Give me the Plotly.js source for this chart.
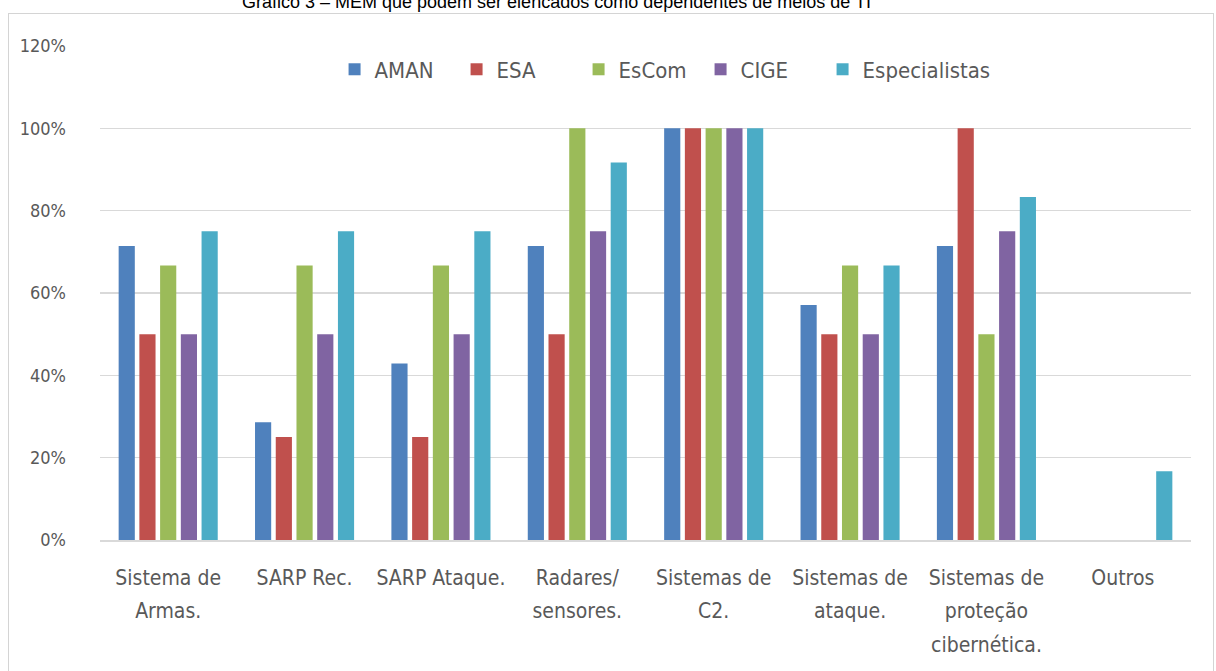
<!DOCTYPE html>
<html>
<head>
<meta charset="utf-8">
<script src="https://cdn.plot.ly/plotly-3.0.1.min.js"></script>
<style>
  html, body { margin: 0; padding: 0; background: #ffffff; }
  #wrap { position: relative; width: 1216px; height: 671px; overflow: hidden; }
  #chart { position: absolute; left: 0; top: 0; width: 1216px; height: 671px; }
  #frame { position: absolute; left: 8px; top: 13px; width: 1204px; height: 700px;
           border: 1px solid #d4d4d4; pointer-events: none; }
</style>
</head>
<body>
<div id="wrap">
  <div id="chart"></div>
  <div id="frame"></div>
</div>
<script>
const categories = [
  "Sistema de<br>Armas.",
  "SARP Rec.",
  "SARP Ataque.",
  "Radares/<br>sensores.",
  "Sistemas de<br>C2.",
  "Sistemas de<br>ataque.",
  "Sistemas de<br>proteção<br>cibernética.",
  "Outros"
];
const seriesNames = ["AMAN", "ESA", "EsCom", "CIGE", "Especialistas"];
const AMAN          = [0.714, 0.286, 0.429, 0.714, 1.00, 0.571, 0.714, 0];
const ESA           = [0.50,  0.25,  0.25,  0.50,  1.00, 0.50,  1.00,  0];
const EsCom         = [0.667, 0.667, 0.667, 1.00,  1.00, 0.667, 0.50,  0];
const CIGE          = [0.50,  0.50,  0.50,  0.75,  1.00, 0.50,  0.75,  0];
const Especialistas = [0.75,  0.75,  0.75,  0.917, 1.00, 0.667, 0.833, 0.167];
const seriesValues = [AMAN, ESA, EsCom, CIGE, Especialistas];
const colors = ["#4F81BD", "#C0504D", "#9BBB59", "#8064A2", "#4BACC6"];
const yTickVals = [0, 0.2, 0.4, 0.6, 0.8, 1.0, 1.2];
const titleText = "Gráfico 3 – MEM que podem ser elencados como dependentes de meios de TI";

const FONT = "'DejaVu Sans Condensed', 'Arial Narrow', sans-serif";

const traces = seriesNames.map((name, i) => ({
  type: "bar",
  name: name,
  x: categories,
  y: seriesValues[i],
  marker: { color: colors[i] },
  hoverinfo: "none"
}));

const layout = {
  width: 1216,
  height: 671,
  margin: { l: 100, r: 25, t: 46, b: 131 },
  paper_bgcolor: "#ffffff",
  plot_bgcolor: "#ffffff",
  barmode: "group",
  bargap: 0.24,
  bargroupgap: 0.22,
  font: { family: FONT, size: 21, color: "#595959" },
  showlegend: true,
  legend: {
    orientation: "h",
    x: 0.215, xanchor: "left",
    y: 0.995, yanchor: "top",
    font: { family: FONT, size: 22, color: "#595959" },
    bgcolor: "rgba(0,0,0,0)",
    itemclick: false,
    itemwidth: 30,
    entrywidth: 77,
    entrywidthmode: "pixels",
    traceorder: "normal"
  },
  xaxis: {
    type: "category",
    showgrid: false,
    showline: true,
    linecolor: "#d9d9d9",
    linewidth: 1.5,
    ticks: "",
    ticklabelstandoff: 18,
    tickfont: { family: FONT, size: 21, color: "#595959" },
    fixedrange: true
  },
  yaxis: {
    range: [0, 1.2],
    tickvals: yTickVals,
    tickformat: ".0%",
    showgrid: true,
    gridcolor: "#d9d9d9",
    gridwidth: 1.5,
    zeroline: false,
    showline: false,
    ticks: "",
    ticklabelstandoff: 33,
    tickfont: { family: FONT, size: 18, color: "#595959" },
    fixedrange: true
  },
  annotations: [{
    text: titleText,
    xref: "paper", yref: "paper",
    x: 0.418, xanchor: "center",
    y: 1.090, yanchor: "middle",
    showarrow: false,
    font: { family: "'Liberation Sans', Arial, sans-serif", size: 18, color: "#000000" }
  }]
};

Plotly.newPlot("chart", traces, layout, { displayModeBar: false, staticPlot: true }).then(() => {
  // widen line spacing of the multi-line category labels (1.3em -> 1.6em per line)
  document.querySelectorAll(".xtick text tspan.line").forEach(t => {
    const dy = t.getAttribute("dy");
    const v = dy ? parseFloat(dy) : 0;
    if (v > 0) t.setAttribute("dy", (v * 1.6 / 1.3).toFixed(3) + "em");
  });
  // let the last legend label run past its fixed entry width
  document.querySelectorAll(".legend [clip-path]").forEach(e => e.removeAttribute("clip-path"));
});
</script>
</body>
</html>
